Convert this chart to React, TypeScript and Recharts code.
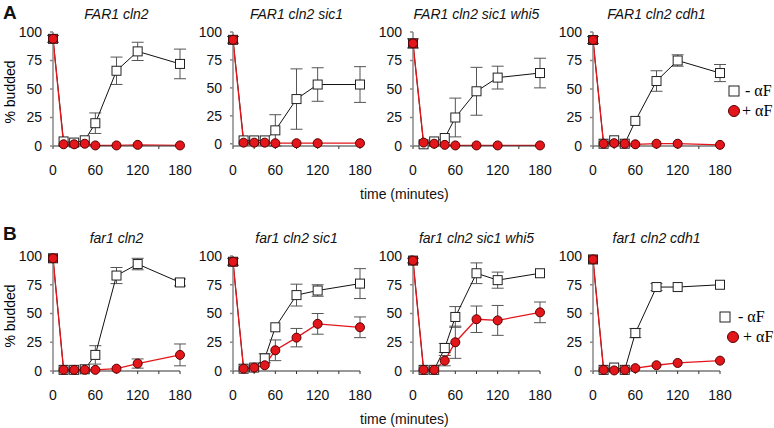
import { ErrorBar, Line, LineChart, XAxis, YAxis } from "recharts";

const time = [0, 15, 30, 45, 60, 90, 120, 180];
const xTicks = [0, 30, 60, 90, 120, 150, 180];
const yTicks = [0, 25, 50, 75, 100];

// row A (FAR1)
const minusA1 = [94, 4, 3, 5, 20, 66, 83, 72];
const minusA1Err = [3, 0, 0, 0, 9, 12, 8, 13];
const plusA1 = [94, 1.5, 1.5, 2, 0.5, 0.5, 1, 0.5];
const plusA1Err = [0, 0, 0, 0, 0, 0, 0, 0];

const minusA2 = [93, 3, 3, 3, 12, 40, 53, 53];
const minusA2Err = [3, 0, 0, 0, 14, 27, 15, 16];
const plusA2 = [93, 1, 1, 1, 0.5, 0.5, 0.5, 0.5];
const plusA2Err = [0, 0, 0, 0, 0, 0, 0, 0];

const minusA3 = [90, 1.5, 4, 7, 25, 48, 60, 64];
const minusA3Err = [4, 0, 0, 0, 17, 21, 10, 13];
const plusA3 = [90, 3, 2, 1, 0.5, 0.5, 0.5, 0.5];
const plusA3Err = [0, 0, 0, 0, 0, 0, 0, 0];

const minusA4 = [93, 2, 5, 2, 22, 57, 75, 64];
const minusA4Err = [3, 0, 0, 0, 0, 9, 5, 7.5];
const plusA4 = [93, 2, 2.5, 2, 1.5, 2, 2, 1];
const plusA4Err = [0, 0, 0, 0, 0, 0, 0, 0];

// row B (far1)
const minusB1 = [98, 1, 1, 1.5, 14, 83, 93, 77];
const minusB1Err = [0, 0, 0, 0, 8, 7, 5, 3];
const plusB1 = [98, 1, 1, 1, 1, 2, 6.5, 14];
const plusB1Err = [0, 0, 0, 0, 0, 0, 4, 9.5];

const minusB2 = [95, 2, 3, 11, 38, 66, 70, 76];
const minusB2Err = [3, 0, 0, 4, 0, 9.5, 5, 13];
const plusB2 = [95, 2, 3, 5, 18, 29, 41, 38];
const plusB2Err = [0, 0, 0, 0, 9, 8, 9, 9];

const minusB3 = [96, 1, 1, 20, 47, 85, 79, 85];
const minusB3Err = [2, 0, 0, 4, 9, 9, 7, 0];
const plusB3 = [96, 1, 1, 9, 25, 45, 44, 51];
const plusB3Err = [0, 0, 0, 4.5, 14, 11.5, 13, 9];

const minusB4 = [97, 1, 3, 1, 33, 73, 73, 75];
const minusB4Err = [0, 0, 0, 0, 4, 3, 0, 0];
const plusB4 = [97, 1, 0.5, 1, 2.5, 5, 7, 9];
const plusB4Err = [0, 0, 0, 0, 0, 0, 0, 0];

const RED = "#e3161b";
const FONT = "'Liberation Sans', Arial, sans-serif";
const PLOT_W = 127;
const LEFT_SPACE = 50;
const Y_LABEL_GAP = 11;

interface PanelProps {
  left: number;
  top: number;
  height: number;
  title: string;
  minus: number[];
  minusErr: number[];
  plus: number[];
  plusErr: number[];
}

function SquareDot(props: any) {
  const { cx, cy, index } = props;
  if (cx == null || cy == null) return null;
  return (
    <rect key={`sq-${index}`} x={cx - 4.5} y={cy - 4.5} width={9} height={9}
      fill={index === 0 ? RED : "#fff"} stroke="#222" strokeWidth={1} />
  );
}

function Panel({ left, top, height, title, minus, minusErr, plus, plusErr }: PanelProps) {
  const data = time.map((t, i) => ({
    t,
    minus: minus[i],
    minusErr: minusErr[i],
    plus: plus[i],
    plusErr: plusErr[i],
  }));

  return (
    <>
      <div style={{
        position: "absolute", left: left, top: top - 26, width: PLOT_W, textAlign: "center",
        fontStyle: "italic", fontSize: 14, whiteSpace: "nowrap",
      }}>
        {title}
      </div>
      <div style={{ position: "absolute", left: left - LEFT_SPACE, top: top - 10 }}>
        <LineChart width={LEFT_SPACE + PLOT_W + 12} height={10 + height + 34} data={data}
          margin={{ top: 10, right: 12, bottom: 0, left: 0 }}>
          <XAxis type="number" dataKey="t" domain={[0, 180]} ticks={xTicks} interval={0}
            tickFormatter={(v: number) => (v % 60 === 0 ? String(v) : "")}
            height={34} tickSize={3} tickMargin={16} stroke="#333"
            tick={{ fontSize: 14, fill: "#111" }} />
          <YAxis type="number" domain={[0, 100]} ticks={yTicks} interval={0} width={LEFT_SPACE}
            tickSize={3} tickMargin={Y_LABEL_GAP - 3} stroke="#888" strokeWidth={1.5}
            tick={{ fontSize: 14, fill: "#111" }} />
          <Line dataKey="minus" stroke="#111" strokeWidth={1} dot={SquareDot}
            activeDot={false} isAnimationActive={false}>
            <ErrorBar dataKey="minusErr" width={6} stroke="#555" strokeWidth={1} direction="y" />
          </Line>
          <Line dataKey="plus" stroke={RED} strokeWidth={1.3}
            dot={{ r: 4.5, fill: RED, stroke: "#5a0000", strokeWidth: 1 }}
            activeDot={false} isAnimationActive={false}>
            <ErrorBar dataKey="plusErr" width={6} stroke="#555" strokeWidth={1} direction="y" />
          </Line>
        </LineChart>
      </div>
    </>
  );
}

function Legend({ top, sqX, circX, sqTextX, circTextX }: { top: number; sqX: number; circX: number; sqTextX: number; circTextX: number }) {
  return (
    <svg style={{ position: "absolute", left: 0, top: 0 }} width={774} height={428}>
      <rect x={sqX - 5} y={top - 5} width={10} height={10} fill="#fff" stroke="#222" strokeWidth={1} />
      <text x={sqTextX} y={top + 5} fontSize={16} fontFamily="'Liberation Serif', serif">- αF</text>
      <circle cx={circX} cy={top + 20} r={5.5} fill={RED} stroke="#5a0000" strokeWidth={1} />
      <text x={circTextX} y={top + 25} fontSize={16} fontFamily="'Liberation Serif', serif">+ αF</text>
    </svg>
  );
}

function YLabel({ cy }: { cy: number }) {
  return (
    <svg style={{ position: "absolute", left: 0, top: cy - 50 }} width={20} height={100}>
      <text transform="translate(15,50) rotate(-90)" textAnchor="middle" fontSize={14} fontFamily={FONT}>% budded</text>
    </svg>
  );
}

export default function App() {
  const colLeft = [53, 233, 413, 593];
  return (
    <div style={{ position: "absolute", left: 0, top: 0, width: 774, height: 428, background: "#fff", fontFamily: FONT, color: "#111" }}>
      <div style={{ position: "absolute", left: 3, top: 2, fontSize: 19, fontWeight: "bold" }}>A</div>
      <div style={{ position: "absolute", left: 3, top: 223, fontSize: 19, fontWeight: "bold" }}>B</div>
      <YLabel cy={92} />
      <YLabel cy={316} />

      <Panel left={colLeft[0]} top={32} height={114} title="FAR1 cln2"
        minus={minusA1} minusErr={minusA1Err} plus={plusA1} plusErr={plusA1Err} />
      <Panel left={colLeft[1]} top={32} height={114} title="FAR1 cln2 sic1"
        minus={minusA2} minusErr={minusA2Err} plus={plusA2} plusErr={plusA2Err} />
      <Panel left={colLeft[2]} top={32} height={114} title="FAR1 cln2 sic1 whi5"
        minus={minusA3} minusErr={minusA3Err} plus={plusA3} plusErr={plusA3Err} />
      <Panel left={colLeft[3]} top={32} height={114} title="FAR1 cln2 cdh1"
        minus={minusA4} minusErr={minusA4Err} plus={plusA4} plusErr={plusA4Err} />

      <Panel left={colLeft[0]} top={256} height={115} title="far1 cln2"
        minus={minusB1} minusErr={minusB1Err} plus={plusB1} plusErr={plusB1Err} />
      <Panel left={colLeft[1]} top={256} height={115} title="far1 cln2 sic1"
        minus={minusB2} minusErr={minusB2Err} plus={plusB2} plusErr={plusB2Err} />
      <Panel left={colLeft[2]} top={256} height={115} title="far1 cln2 sic1 whi5"
        minus={minusB3} minusErr={minusB3Err} plus={plusB3} plusErr={plusB3Err} />
      <Panel left={colLeft[3]} top={256} height={115} title="far1 cln2 cdh1"
        minus={minusB4} minusErr={minusB4Err} plus={plusB4} plusErr={plusB4Err} />

      <div style={{ position: "absolute", left: 360, top: 186, fontSize: 14 }}>time (minutes)</div>
      <div style={{ position: "absolute", left: 360, top: 411, fontSize: 14 }}>time (minutes)</div>

      <Legend top={91} sqX={734} circX={734} sqTextX={745} circTextX={742} />
      <Legend top={317} sqX={725} circX={733} sqTextX={738} circTextX={743} />
    </div>
  );
}
